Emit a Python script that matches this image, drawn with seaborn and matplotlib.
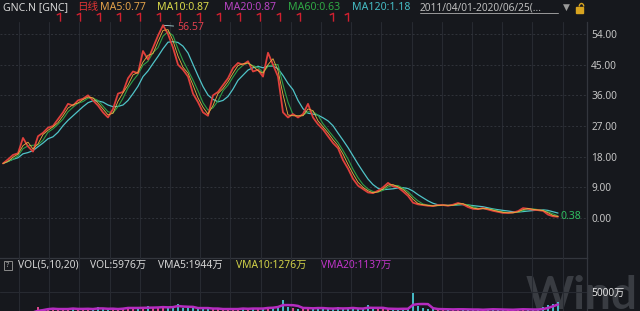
import numpy as np
import pandas as pd
import matplotlib
matplotlib.use("Agg")
import matplotlib.pyplot as plt
import seaborn as sns
from matplotlib.path import Path
from matplotlib.patches import Rectangle, Arc

# ---------------- data ----------------
close = [16.0, 17.2, 18.5, 19.0, 23.5, 21.0, 19.5, 24.0, 25.0, 26.5,
         27.0, 29.0, 31.0, 33.5, 33.0, 34.5, 35.0, 36.0, 34.5, 33.0,
         31.0, 29.5, 32.0, 36.5, 37.0, 41.0, 43.0, 42.5, 49.0, 46.5,
         50.0, 53.5, 56.57, 54.0, 50.0, 45.0, 43.5, 41.5, 36.5, 34.0,
         31.0, 30.0, 36.0, 37.0, 39.0, 41.0, 44.0, 45.5, 45.0, 46.0,
         43.0, 43.5, 41.5, 48.5, 45.0, 41.5, 31.0, 29.5, 30.5, 29.5,
         30.5, 33.5, 29.5, 27.5, 26.0, 24.0, 22.0, 20.5, 17.0, 14.5,
         11.5, 9.5, 8.5, 7.5, 7.3, 8.0, 9.0, 10.3, 9.3, 9.0,
         7.8, 6.5, 4.5, 4.0, 3.8, 3.6, 3.5, 3.8, 3.8, 3.6,
         3.9, 4.4, 4.0, 3.2, 2.7, 2.6, 2.9, 2.5, 2.1, 1.8,
         1.5, 1.5, 1.6, 2.0, 2.9, 2.7, 2.4, 2.3, 2.1, 1.0,
         0.5, 0.38]

volume = [500, 600, 700, 650, 800, 700, 900, 1900, 1400, 1500,
          1300, 1600, 1400, 1500, 1700, 1300, 1400, 1600, 1500, 1800,
          1400, 1300, 1600, 1500, 1700, 1900, 1600, 1500, 1800, 2000,
          1700, 1600, 2100, 1800, 1900, 2500, 1700, 1600, 1800, 1500,
          1700, 1600, 1400, 1500, 1300, 1600, 1400, 1500, 1700, 1400,
          1600, 1500, 1700, 1900, 1800, 2100, 3300, 1900, 1700, 1500,
          1600, 1800, 1500, 1700, 1600, 1500, 1400, 1900, 1500, 1600,
          1700, 1500, 1400, 2300, 1600, 1500, 1400, 1600, 1500, 1400,
          1500, 1600, 4800, 2000, 1600, 1500, 1400, 1300, 1500, 1400,
          1300, 1400, 1500, 1300, 1200, 1400, 1300, 1500, 1400, 1300,
          1200, 1400, 1300, 1500, 1400, 1300, 1200, 1500, 1800, 2200,
          2600, 3000]

event_idx = [11.4, 15.4, 19.4, 23.4, 27.4, 31.4, 35.4, 39.4, 43.4, 47.4,
             51.4, 55.4, 59.4, 66.0, 69.0]

price_ticks = [0, 9, 18, 27, 36, 45, 54]
vol_ticks = [5000]

header = [("GNC.N [GNC]", "#d6d6d6"), ("日线", "#e03434"), ("MA5:0.77", "#e3a24a"),
          ("MA10:0.87", "#d9d94a"), ("MA20:0.87", "#b844c4"), ("MA60:0.63", "#2fa844"),
          ("MA120:1.18", "#45bcc4")]
date_range = "2011/04/01-2020/06/25(..."
vol_header = [("VOL(5,10,20)", "#d6d6d6"), ("VOL:5976万", "#d6d6d6"),
              ("VMA5:1944万", "#d6d6d6"), ("VMA10:1276万", "#d2d248"),
              ("VMA20:1137万", "#c035c8")]
peak_label = "56.57"
last_label = "0.38"

assert len(close) == len(volume)

df = pd.DataFrame({"i": np.arange(len(close)), "close": close, "vol": volume})
df["ma10"] = df["close"].rolling(2, min_periods=1).mean()
df["ma60"] = df["close"].rolling(3, min_periods=1).mean()
df["ma120"] = df["close"].rolling(6, min_periods=1).mean()
df["dir"] = np.where(df["close"].diff().fillna(0) >= 0, "up", "down")
df["vma"] = df["vol"].rolling(4, min_periods=1).mean()

# ---------------- style ----------------
BG = "#16181d"
GRID = "#272a31"
sns.set_theme(style="dark")
plt.rcParams["font.family"] = ["Noto Sans", "Noto Sans CJK SC", "DejaVu Sans"]
plt.rcParams["axes.unicode_minus"] = False

W, H = 640, 311
fig = plt.figure(figsize=(6.4, 3.11), dpi=100, facecolor=BG)


def px_axes(x0, y0, x1, y1):
    return fig.add_axes([x0 / W, 1 - y1 / H, (x1 - x0) / W, (y1 - y0) / H])


# watermark layer (below everything)
wm = px_axes(0, 0, 640, 311)
wm.set_xlim(0, 640)
wm.set_ylim(311, 0)
wm.axis("off")
wm.text(526, 309, "Wind", fontsize=33, color="#393c42", family="Lato",
        fontweight="bold", ha="left", va="baseline")

ax = px_axes(0, 22, 587, 258)
axv = px_axes(0, 258, 587, 316)

xlim = (-0.6, 116.8)
vgrid = np.arange(3.2, 116.5, 6.04)

for a in (ax, axv):
    a.patch.set_alpha(0)
    a.set_xlim(*xlim)
    a.set_xticks(vgrid)
    a.tick_params(axis="x", length=0, labelbottom=False)
    a.xaxis.grid(True, color=GRID, lw=0.8)
    a.yaxis.tick_right()
    a.tick_params(axis="y", length=0, pad=3, labelcolor="#c4c4c4", labelsize=7.3)
    for s in ("left", "top"):
        a.spines[s].set_visible(False)
    for s in ("right", "bottom"):
        a.spines[s].set_color("#33363d")
        a.spines[s].set_linewidth(0.9)

# price panel
ax.set_ylim(-11.74, 57.52)
ax.set_yticks(price_ticks)
ax.set_yticklabels([f"{t:.2f}" for t in price_ticks])
ax.yaxis.grid(True, color="#30333a", lw=0.7, ls=(0, (2, 2)))

sns.lineplot(data=df, x="i", y="ma120", ax=ax, color="#4fc4c8", lw=0.9, zorder=3)
sns.lineplot(data=df, x="i", y="ma60", ax=ax, color="#2e9e48", lw=0.8, zorder=3)
sns.lineplot(data=df, x="i", y="close", ax=ax, color="#e0403c", lw=1.3, zorder=4)
sns.lineplot(data=df, x="i", y="ma10", ax=ax, color="#e8b040", lw=0.6, zorder=5)
ax.set_xlabel("")
ax.set_ylabel("")

imax = int(df["close"].idxmax())
ax.annotate(peak_label, xy=(imax, df["close"].max()), xytext=(10, -1.5),
            textcoords="offset points", color="#e0404e", fontsize=7.6,
            ha="left", va="center",
            arrowprops=dict(arrowstyle="-", color="#a8d4d4", lw=0.6,
                            shrinkA=0, shrinkB=0))
ax.annotate(last_label, xy=(df["i"].iloc[-1], df["close"].iloc[-1]),
            xytext=(1.5, 0.5), textcoords="offset points", color="#2fc060",
            fontsize=7.6, ha="left", va="center")

# event markers above the price panel
flag = Path([(-0.45, 0.3), (0.0, 0.5), (0.0, -0.5)],
            [Path.MOVETO, Path.LINETO, Path.LINETO])
ax.plot(event_idx, [1.02] * len(event_idx), ls="none", marker=flag,
        markersize=6, mec="#d02030", mfc="none", mew=1.0,
        transform=ax.get_xaxis_transform(), clip_on=False)

# volume panel
axv.set_ylim(0, 12083)
axv.set_yticks(vol_ticks)
axv.set_yticklabels([f"{t}万" for t in vol_ticks])
axv.tick_params(axis="y", labelcolor="#e4e4e4", labelsize=7.3)
axv.yaxis.grid(True, color=GRID, lw=0.8)
sns.barplot(data=df, x="i", y="vol", hue="dir",
            palette={"up": "#d84a8a", "down": "#45b8c4"}, saturation=1,
            native_scale=True, dodge=False, width=0.5, errorbar=None,
            linewidth=0, edgecolor="none",
            legend=False, ax=axv, zorder=3)
sns.lineplot(data=df, x="i", y="vma", ax=axv, color="#b52cc0", lw=1.8, zorder=4)
axv.set_xlim(*xlim)
axv.set_xlabel("")
axv.set_ylabel("")

# ---------------- overlay for header texts ----------------
ov = px_axes(0, 0, 640, 311)
ov.set_xlim(0, 640)
ov.set_ylim(311, 0)
ov.axis("off")
ov.patch.set_alpha(0)

hx = [3, 77, 100, 157, 224, 288, 352]
for x, (t, c) in zip(hx, header):
    ov.text(x, 7.5, t, color=c, fontsize=7.6, ha="left", va="center")
ov.text(420, 7.5, date_range, color="#bdbdbd", fontsize=7.3, ha="left", va="center")
ov.plot([420, 558], [13.2, 13.2], color="#9a9a9a", lw=0.7)
ov.text(563, 7.5, "▼", color="#9a9a9a", fontsize=6.5, ha="left", va="center",
        family="DejaVu Sans")
ov.add_patch(Rectangle((576, 7), 7, 6, color="#d8a420"))
ov.add_patch(Arc((581.5, 6.5), 4.5, 6, theta1=180, theta2=360, color="#d8a420", lw=1.0))

vx = [18, 90, 158, 236, 321]
for x, (t, c) in zip(vx, vol_header):
    ov.text(x, 265, t, color=c, fontsize=7.4, ha="left", va="center")
ov.add_patch(Rectangle((3.5, 260.5), 8.5, 9, fill=False, ec="#8a8a8a", lw=0.7))
ov.text(7.8, 265.2, "?", color="#a8a8a8", fontsize=5.5, ha="center", va="center")

fig.savefig("out.png", dpi=100, facecolor=BG)
